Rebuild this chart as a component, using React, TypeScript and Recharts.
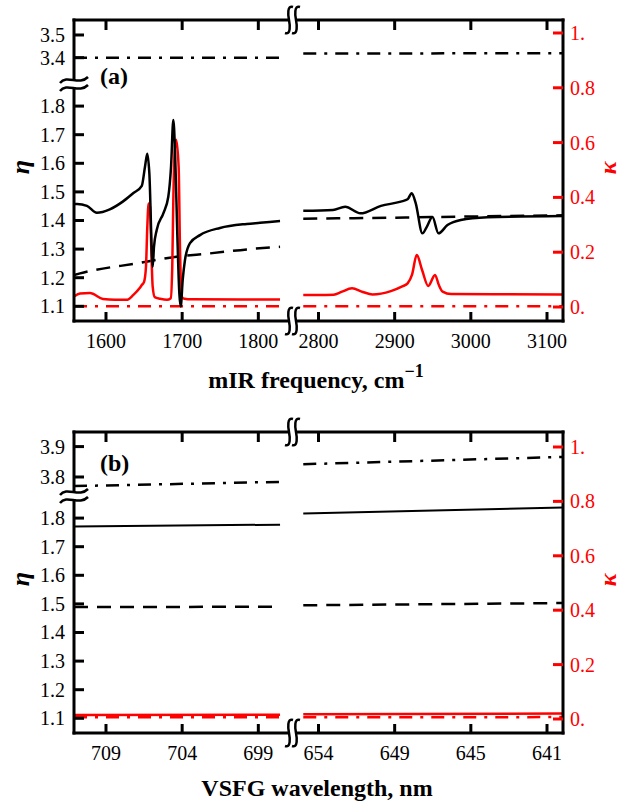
import { ComposedChart, Line, XAxis, YAxis } from 'recharts';

const FONT = "'Liberation Serif', 'DejaVu Serif', 'Times New Roman', serif";
const RED = '#ff0000';
const W = 623;
const H = 400;

// the frequency axis skips 1830–2780 cm-1: points above the gap are moved left by GAP
const GAP = 921;
const xPos = (f: number) => (f > 2300 ? f - GAP : f);
const X_DOMAIN = [1558, 2200];
const ETA_DOMAIN = [1.0486, 2.101];

const freqTicks = [1600, 1700, 1800, 2800, 2900, 3000, 3100];
const freqLabels = ['1600', '1700', '1800', '2800', '2900', '3000', '3100'];
const wavelengthLabels = ['709', '704', '699', '654', '649', '645', '641'];
const etaTicks = [1.1, 1.2, 1.3, 1.4, 1.5, 1.6, 1.7, 1.8];
const etaTopTicksA = [3.4, 3.5];
const etaTopTicksB = [3.8, 3.9];
const kappaTicks = [0, 0.2, 0.4, 0.6, 0.8, 1];
const kappaLabels = ['0.', '0.2', '0.4', '0.6', '0.8', '1.'];

// ---- panel (a): mIR ----
const aEtaFreqL = [1558, 1562, 1575, 1588, 1605, 1622, 1636, 1647, 1651.2, 1654.2, 1656.9, 1661.3, 1663, 1666.6, 1675.3, 1681.8, 1685.4, 1688.4, 1690.6, 1693.6, 1696.3, 1698.1, 1700.7, 1703.7, 1710.3, 1723.4, 1749.7, 1784.7, 1802.2, 1828.5];
const aEtaL = [1.458, 1.458, 1.451, 1.427, 1.439, 1.466, 1.496, 1.521, 1.588, 1.633, 1.566, 1.238, 1.308, 1.367, 1.425, 1.483, 1.588, 1.751, 1.647, 1.355, 1.145, 1.099, 1.192, 1.262, 1.321, 1.349, 1.374, 1.388, 1.392, 1.398];
const aEtaFreqR = [2780, 2819, 2835, 2855, 2882, 2908, 2917, 2922.3, 2927.6, 2936.4, 2942, 2949.6, 2957.5, 2969.3, 2986.8, 3021.8, 3121];
const aEtaR = [1.434, 1.437, 1.448, 1.425, 1.451, 1.466, 1.474, 1.495, 1.461, 1.355, 1.377, 1.412, 1.355, 1.384, 1.402, 1.411, 1.416];

const aKFreqL = [1558, 1566, 1579, 1596, 1612, 1627, 1636, 1644, 1647, 1650, 1652.5, 1654.2, 1656, 1657.8, 1659.5, 1661.3, 1664, 1671, 1680, 1685, 1687, 1688.4, 1690.2, 1692.1, 1695.4, 1697.2, 1699.4, 1703, 1712, 1828.5];
const aKL = [0.038, 0.049, 0.051, 0.029, 0.026, 0.026, 0.044, 0.068, 0.08, 0.092, 0.147, 0.29, 0.378, 0.366, 0.208, 0.074, 0.036, 0.03, 0.026, 0.032, 0.147, 0.39, 0.573, 0.61, 0.51, 0.208, 0.038, 0.03, 0.028, 0.027];
const aKFreqR = [2780, 2800, 2820, 2830, 2844, 2858, 2871, 2895, 2910, 2917, 2922.7, 2929, 2936, 2944, 2953, 2958, 2963, 2974, 3121];
const aKR = [0.044, 0.044, 0.045, 0.055, 0.068, 0.055, 0.046, 0.058, 0.075, 0.086, 0.117, 0.19, 0.135, 0.077, 0.117, 0.08, 0.056, 0.047, 0.046];

const aDashFreqL = [1558, 1566, 1645, 1686, 1736.6, 1784.8, 1828.5];
const aDashL = [1.209, 1.215, 1.252, 1.271, 1.285, 1.299, 1.308];
const aDashFreqR = [2780, 2900, 3000, 3121];
const aDashR = [1.406, 1.41, 1.414, 1.418];

const segL = [1558, 1828.5];
const segR = [2780, 3121];
const aDotEtaL = [3.4, 3.4];
const aDotEtaR = [3.418, 3.42];
const aDotKL = [0.003, 0.003];
const aDotKR = [0.003, 0.003];

// ---- panel (b): VSFG (same frequency grid, labelled in nm) ----
const bDotEtaL = [3.77, 3.784];
const bDotEtaR = [3.842, 3.866];
const bEtaL = [1.771, 1.777];
const bEtaR = [1.816, 1.837];
const bDashL = [1.489, 1.49];
const bDashR = [1.495, 1.503];
const bKL = [0.015, 0.016];
const bKR = [0.017, 0.02];
const bDotKL = [0.006, 0.006];
const bDotKR = [0.006, 0.007];

const DASH = '14 9';
const DASHDOT = '13 8 3 8';

type Spec = { freq: number[]; val: number[]; axis: 'eta' | 'k'; color: string; dash?: string; width?: number };

const makeTick = (side: string, pos: number[], labels: string[] | null, color = '#000') => (p: any) => {
  const i = pos.findIndex((v) => Math.abs(v - p.payload.value) < 1e-6);
  const label = labels && i >= 0 ? labels[i] : '';
  const { x, y } = p;
  const txt = { style: { fontFamily: FONT, fontSize: 20 }, fill: color };
  if (side === 'left')
    return (
      <g>
        <line x1={x} x2={x + 10} y1={y} y2={y} stroke={color} strokeWidth={3} />
        <text x={x - 9} y={y} dy={7} textAnchor="end" {...txt}>{label}</text>
      </g>
    );
  if (side === 'right')
    return (
      <g>
        <line x1={x} x2={x - 10} y1={y} y2={y} stroke={color} strokeWidth={3} />
        <text x={x + 7} y={y} dy={7} textAnchor="start" {...txt}>{label}</text>
      </g>
    );
  if (side === 'top')
    return <line x1={x} x2={x} y1={y} y2={y + 10} stroke={color} strokeWidth={3} />;
  return (
    <g>
      <line x1={x} x2={x} y1={y} y2={y - 9} stroke={color} strokeWidth={3} />
      <text x={x} y={y + 27} textAnchor="middle" {...txt}>{label}</text>
    </g>
  );
};

const frameLine = { stroke: '#000', strokeWidth: 3, strokeLinecap: 'square' };

function XBreak({ y }: { y: number }) {
  const s = (cx: number) =>
    `M${cx + 4} ${y - 13} C${cx - 2} ${y - 15} ${cx - 1} ${y - 5} ${cx} ${y} C${cx + 1} ${y + 5} ${cx + 2} ${y + 15} ${cx - 4} ${y + 13}`;
  return (
    <g>
      <rect x={289} y={y - 3} width={7} height={6} fill="#fff" />
      <path d={s(289)} stroke="#000" strokeWidth={2.5} fill="none" />
      <path d={s(296)} stroke="#000" strokeWidth={2.5} fill="none" />
    </g>
  );
}

function YBreak({ y }: { y: number }) {
  const t = (cy: number) => `M60 ${cy + 3} C67 ${cy - 6} 79 ${cy + 6} 88 ${cy - 3}`;
  return (
    <g>
      <rect x={70} y={y - 3} width={9} height={6} fill="#fff" />
      <path d={t(y - 4)} stroke="#000" strokeWidth={2.5} fill="none" />
      <path d={t(y + 4)} stroke="#000" strokeWidth={2.5} fill="none" />
    </g>
  );
}

type PanelProps = {
  top: number;
  tag: string;
  tagY: number;
  xLabels: string[];
  title: React.ReactNode;
  hiTicks: number[];
  hiBase: number;
  hiScale: number;
  kDomain: number[];
  lines: Spec[];
};

function Panel(p: PanelProps) {
  const yHi = (v: number) => p.hiBase + (v - p.hiTicks[0]) * p.hiScale;
  const etaY = (v: number) => (v > 3 ? yHi(v) : v);
  const etaPos = [...etaTicks, ...p.hiTicks.map(yHi)];
  const etaLabels = [...etaTicks, ...p.hiTicks].map((v) => v.toFixed(1));
  const xTickPos = freqTicks.map(xPos);
  const bold = { fontFamily: FONT, fontWeight: 700 };

  return (
    <div style={{ position: 'absolute', left: 0, top: p.top, width: W, height: H }}>
      <ComposedChart width={W} height={H} margin={{ top: 0, right: 0, bottom: 0, left: 0 }}>
        <XAxis xAxisId="x" type="number" dataKey="x" domain={X_DOMAIN} allowDataOverflow ticks={xTickPos} interval={0}
          height={79} tickSize={0} tickMargin={0} tickLine={false} axisLine={frameLine}
          tick={makeTick('bottom', xTickPos, p.xLabels)} />
        <XAxis xAxisId="t" orientation="top" type="number" dataKey="x" domain={X_DOMAIN} allowDataOverflow ticks={xTickPos} interval={0}
          height={20} tickSize={0} tickMargin={0} tickLine={false} axisLine={frameLine}
          tick={makeTick('top', xTickPos, null)} />
        <YAxis yAxisId="eta" type="number" domain={ETA_DOMAIN} allowDataOverflow ticks={etaPos} interval={0}
          width={74} tickSize={0} tickMargin={0} tickLine={false} axisLine={frameLine}
          tick={makeTick('left', etaPos, etaLabels)} />
        <YAxis yAxisId="k" orientation="right" type="number" domain={p.kDomain} allowDataOverflow ticks={kappaTicks} interval={0}
          width={60} tickSize={0} tickMargin={0} tickLine={false} axisLine={frameLine}
          tick={makeTick('right', kappaTicks, kappaLabels, RED)} />
        {p.lines.map((s, i) => (
          <Line
            key={i}
            data={s.freq.map((f, j) => ({ x: xPos(f), v: s.axis === 'eta' ? etaY(s.val[j]) : s.val[j] }))}
            dataKey="v"
            xAxisId="x"
            yAxisId={s.axis}
            type="monotone"
            stroke={s.color}
            strokeWidth={s.width ?? 2.5}
            strokeDasharray={s.dash}
            dot={false}
            activeDot={false}
            isAnimationActive={false}
          />
        ))}
      </ComposedChart>
      <svg width={W} height={H} style={{ position: 'absolute', left: 0, top: 0, pointerEvents: 'none' }}>
        <XBreak y={20} />
        <XBreak y={321} />
        <YBreak y={84} />
        <text x={100} y={p.tagY} style={{ ...bold, fontSize: 24 }}>{p.tag}</text>
        <text transform="translate(29 167) rotate(-90)" textAnchor="middle" style={{ ...bold, fontStyle: 'italic', fontSize: 26 }}>η</text>
        <text transform="translate(616 168) rotate(-90)" textAnchor="middle" style={{ ...bold, fontStyle: 'italic', fontSize: 24 }} fill={RED}>κ</text>
        {p.title}
      </svg>
    </div>
  );
}

const mk = (freq: number[], val: number[], axis: 'eta' | 'k', color: string, dash?: string, width?: number): Spec => ({
  freq, val, axis, color, dash, width,
});

export default function App() {
  const linesA = [
    mk(segL, aDotEtaL, 'eta', '#000', DASHDOT),
    mk(segR, aDotEtaR, 'eta', '#000', DASHDOT),
    mk(segL, aDotKL, 'k', RED, DASHDOT),
    mk(segR, aDotKR, 'k', RED, DASHDOT),
    mk(aDashFreqL, aDashL, 'eta', '#000', DASH),
    mk(aDashFreqR, aDashR, 'eta', '#000', DASH),
    mk(aKFreqL, aKL, 'k', RED),
    mk(aKFreqR, aKR, 'k', RED),
    mk(aEtaFreqL, aEtaL, 'eta', '#000'),
    mk(aEtaFreqR, aEtaR, 'eta', '#000'),
  ];
  const linesB = [
    mk(segL, bDotEtaL, 'eta', '#000', DASHDOT),
    mk(segR, bDotEtaR, 'eta', '#000', DASHDOT),
    mk(segL, bDotKL, 'k', RED, DASHDOT),
    mk(segR, bDotKR, 'k', RED, DASHDOT),
    mk(segL, bDashL, 'eta', '#000', DASH),
    mk(segR, bDashR, 'eta', '#000', DASH),
    mk(segL, bKL, 'k', RED),
    mk(segR, bKR, 'k', RED),
    mk(segL, bEtaL, 'eta', '#000', undefined, 2),
    mk(segR, bEtaR, 'eta', '#000', undefined, 2),
  ];
  const titleStyle = { fontFamily: FONT, fontWeight: 700, fontSize: 24 };

  return (
    <div style={{ position: 'absolute', left: 0, top: 0, width: W, height: 805, background: '#fff' }}>
      <Panel
        top={0}
        tag="(a)"
        tagY={84}
        xLabels={freqLabels}
        hiTicks={etaTopTicksA}
        hiBase={1.9692}
        hiScale={0.794}
        kDomain={[-0.0511, 1.0474]}
        lines={linesA}
        title={
          <text x={316} y={388} textAnchor="middle" style={titleStyle}>
            mIR frequency, cm<tspan dy={-11} style={{ fontSize: 18 }}>−1</tspan>
          </text>
        }
      />
      <Panel
        top={412}
        tag="(b)"
        tagY={59}
        xLabels={wavelengthLabels}
        hiTicks={etaTopTicksB}
        hiBase={1.9437}
        hiScale={1.063}
        kDomain={[-0.0515, 1.0551]}
        lines={linesB}
        title={
          <text x={317} y={384} textAnchor="middle" style={titleStyle}>
            VSFG wavelength, nm
          </text>
        }
      />
    </div>
  );
}
